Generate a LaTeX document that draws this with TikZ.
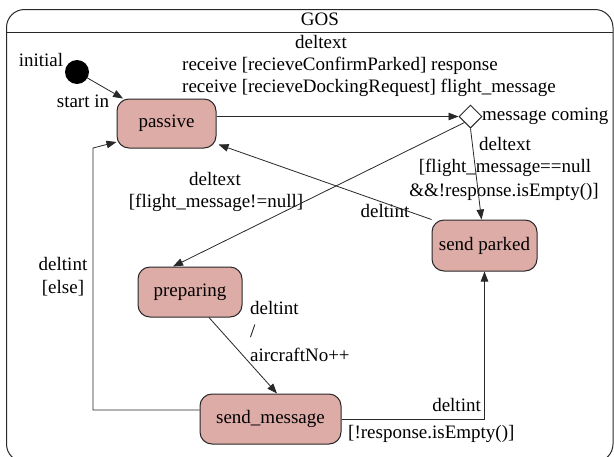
\documentclass[tikz,border=0pt]{standalone}
\usepackage{fontspec}
\setmainfont{Liberation Serif}
\usetikzlibrary{shapes.geometric,arrows.meta,calc}
\definecolor{statefill}{RGB}{222,172,167}
\definecolor{linegray}{RGB}{40,40,40}
\begin{document}
\begin{tikzpicture}[x=1pt,y=-1pt,
  txt/.style={font=\rmfamily\fontsize{19}{22}\selectfont},
  lbl/.style={txt, inner sep=0pt, text height=13pt, text depth=4pt},
  state/.style={txt, draw=linegray, line width=1pt, fill=statefill, rounded corners=12pt, inner sep=0pt},
  conn/.style={draw=linegray, line width=0.8pt, -{Triangle[length=10pt,width=7.5pt]}},
]
\useasboundingbox (0,0) rectangle (614,456);
\clip (0,0) rectangle (614,456);
\fill[white] (0,0) rectangle (614,456);

% container frame
\draw[linegray, line width=1pt, rounded corners=18pt] (6.5,9.5) rectangle (613,462);
\draw[linegray, line width=1pt] (6.5,32.5) -- (613,32.5);
\node[lbl] (gos) at (320,21) {GOS};

% states
\node[circle, fill=black, minimum size=24pt, inner sep=0pt] (init) at (77,72) {};
\node[state, minimum width=99pt, minimum height=49pt] (passive) at (166.5,123.5) {passive};
\node[diamond, draw=linegray, line width=1pt, fill=white, minimum width=23pt, minimum height=23pt, inner sep=0pt, aspect=1] (dia) at (470.5,116.5) {};
\node[state, minimum width=105pt, minimum height=51pt] (sp) at (484.5,245.5) {send parked};
\node[state, minimum width=104pt, minimum height=50pt] (prep) at (190,292) {preparing};
\node[state, minimum width=141pt, minimum height=50pt] (sm) at (270.5,419) {send\_message};

% labels
\node[lbl] (linit) at (41,62) {initial};
\node[lbl] (lstart) at (83,103) {start in};
\node[lbl] (l1a) at (321,44) {deltext};
\node[lbl, anchor=west] (l1b) at (182,66) {receive [recieveConfirmParked] response};
\node[lbl, anchor=west] (l1c) at (182,88) {receive [recieveDockingRequest] flight\_message};
\node[lbl, anchor=west] (lmc) at (482,116) {message coming};
\node[lbl] (l2a) at (505,146) {deltext};
\node[lbl] (l2b) at (505,168) {[flight\_message==null};
\node[lbl] (l2c) at (504,192) {\&\&!response.isEmpty()]};
\node[lbl] (l3a) at (215,181) {deltext};
\node[lbl] (l3b) at (216,203) {[flight\_message!=null]};
\node[lbl] (l4) at (385,213) {deltint};
\node[lbl] (l5a) at (63,266) {deltint};
\node[lbl] (l5b) at (63,289) {[else]};
\node[lbl, anchor=west] (l6a) at (250,310) {deltint};
\node[lbl, anchor=west] (l6b) at (250,333) {/};
\node[lbl, anchor=west] (l6c) at (250,357) {aircraftNo++};
\node[lbl, anchor=east] (l7a) at (481,407) {deltint};
\node[lbl, anchor=west] (l7b) at (348,434) {[!response.isEmpty()]};

% connectors
\coordinate (elsecorner) at (93,148);
\draw[conn] (init) -- (passive);
\draw[conn] (passive.east |- dia.west) -- (dia.west);
\draw[conn] (dia.south west) -- ($(prep.north)+(-17,0)$);
\draw[conn] (dia.south) -- ($(sp.north)+(-3,0)$);
\draw[conn] (sp.north west) -- ($(passive.south east)+(2,-4)$);
\draw[conn] ($(prep.south)+(19,0)$) -- ($(sm.north)+(6.5,0)$);
\draw[conn] ($(sm.west)+(0,-9)$) -| (elsecorner) -- ($(passive.west)+(0,18.5)$);
\draw[conn] (sm.east) -| (sp.south);
\end{tikzpicture}
\end{document}
